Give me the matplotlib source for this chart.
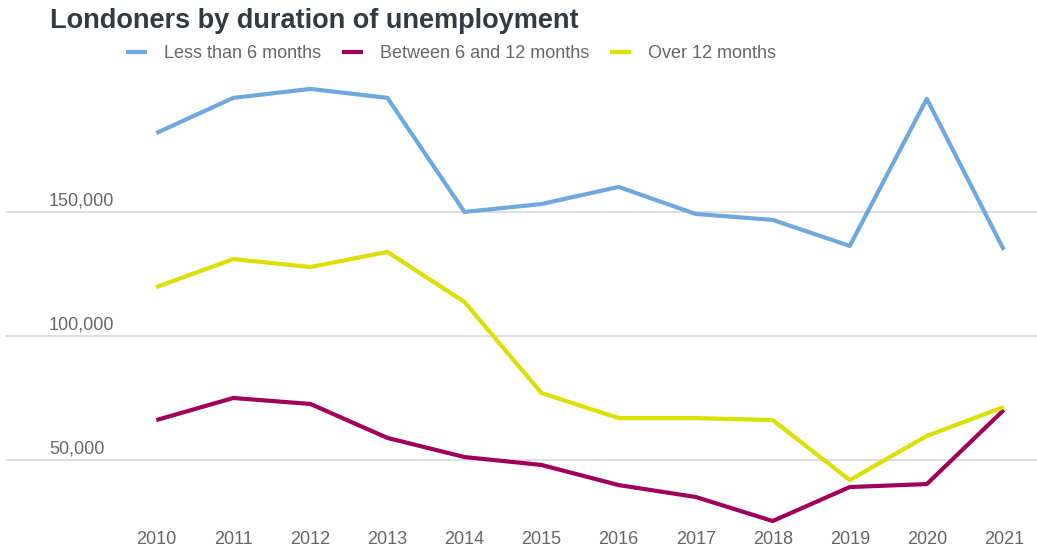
import matplotlib.pyplot as plt
import matplotlib.transforms as mtransforms

plt.rcParams['font.family'] = ['Liberation Sans', 'DejaVu Sans']

years = [2010, 2011, 2012, 2013, 2014, 2015, 2016, 2017, 2018, 2019, 2020, 2021]
less_6 = [181800, 196000, 199600, 196000, 150000, 153200, 160100, 149200, 146800, 136300, 195600, 134700]
between_6_12 = [66100, 75000, 72600, 58900, 51200, 48000, 39900, 35100, 25400, 39100, 40300, 70200]
over_12 = [119700, 131000, 127800, 133900, 113700, 77000, 66900, 66900, 66100, 41900, 59700, 71400]
y_ticks = [50000, 100000, 150000]

names = ['Less than 6 months', 'Between 6 and 12 months', 'Over 12 months']
colors = ['#6fa8dc', '#a0005a', '#dce000']

W, H = 1037, 551
fig = plt.figure(figsize=(W/100, H/100), dpi=100)
ax = fig.add_axes([6/W, (H-525)/H, 1-6/W, (525-80)/H])

for vals, name, c in zip([less_6, between_6_12, over_12], names, colors):
    ax.plot(years, vals, color=c, lw=3, label=name, solid_joinstyle='round',
            solid_capstyle='butt')

ax.set_xlim(2008.05, 2021.43)
ax.set_ylim(23800, 203200)
ax.set_yticks(y_ticks)
ax.set_yticklabels([])
ax.grid(axis='y', color='#d9d9d9', lw=1.2)
ax.set_axisbelow(True)
ax.tick_params(axis='both', length=0)
ax.tick_params(axis='x', colors='#666666', labelsize=13, pad=4)
ax.set_xticks(years)
for s in ax.spines.values():
    s.set_visible(False)

# y labels sit just above their gridlines
trans = mtransforms.blended_transform_factory(fig.transFigure, ax.transData)
shift = mtransforms.ScaledTranslation(0, 1.5/72, fig.dpi_scale_trans)
for t in y_ticks:
    ax.text(49/W, t, f'{t:,}', transform=trans + shift, ha='left', va='bottom',
            fontsize=13, color='#666666')

fig.text(50/W, (H-21)/H, 'Londoners by duration of unemployment', fontsize=19.5,
         fontweight='bold', color='#333a40', ha='left', va='center')

fig.legend(loc='center left', bbox_to_anchor=(126/W, (H-54)/H), ncol=3,
           frameon=False, fontsize=13, handlelength=1.15, handletextpad=0.95,
           columnspacing=1.15, borderpad=0, borderaxespad=0, labelcolor='#666666')

fig.savefig('out.png', dpi=100)
